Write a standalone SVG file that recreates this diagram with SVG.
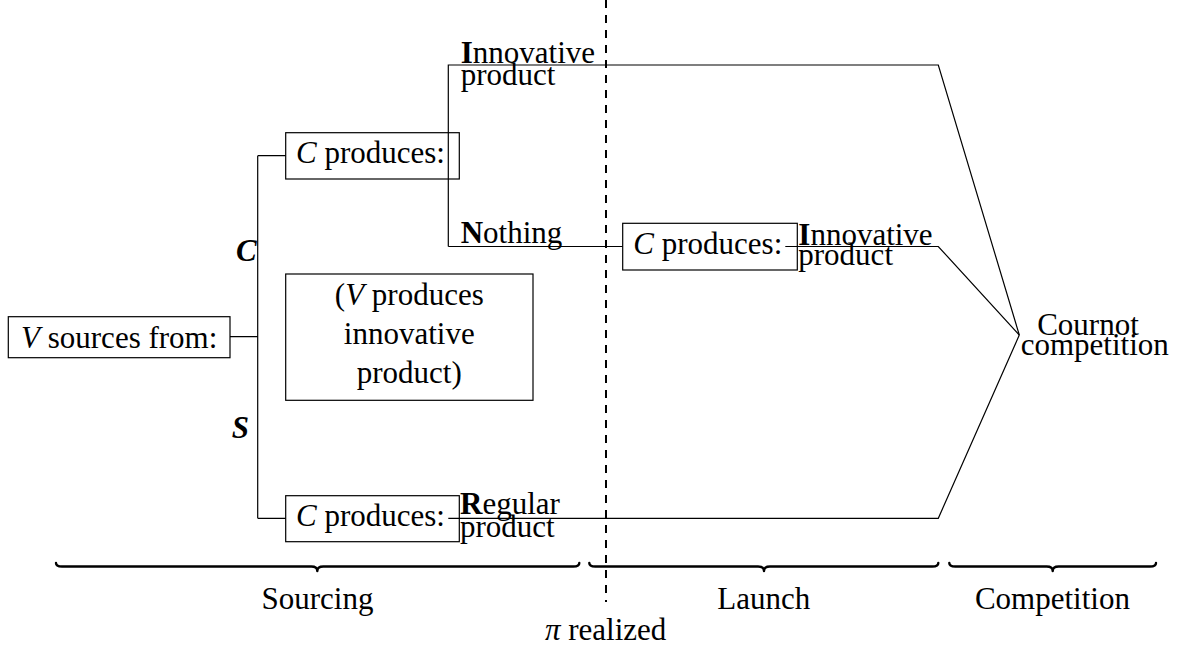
<svg xmlns="http://www.w3.org/2000/svg" width="1183" height="648" viewBox="0 0 1183 648">
<style>
text{font-family:"Liberation Serif","DejaVu Serif",serif;font-size:31px;fill:#000}
.i{font-style:italic}
.b{font-weight:bold}
.bi{font-weight:bold;font-style:italic}
.box{fill:none;stroke:#000;stroke-width:1.2}
.ln{fill:none;stroke:#000;stroke-width:1.2}
.dash{fill:none;stroke:#000;stroke-width:2;stroke-dasharray:8 7}
.brace{fill:none;stroke:#000;stroke-width:2.4;stroke-linecap:round;stroke-linejoin:round}
</style>
<rect width="1183" height="648" fill="#fff"/>
<g id="connectors">
  <path class="ln" d="M230,336.7 H257.7 M257.7,155.7 V518.3 M257.7,155.7 H285.7 M257.7,518.3 H285.7"/>
  <path class="ln" d="M448.3,246.5 V65 H938.3 L1019.3,335"/>
  <path class="ln" d="M448.3,246.5 H622.7"/>
  <path class="ln" d="M785.3,246.5 H938.3 L1019.3,335"/>
  <path class="ln" d="M448.3,518.3 H938.3 L1019.3,335"/>
  <line class="dash" x1="606" y1="0" x2="606" y2="602"/>
</g>
<g id="edge-labels">
  <text class="bi" x="236" y="260.5">C</text>
  <text class="bi" x="231.7" y="438.3">S</text>
  <text x="460.7" y="63"><tspan class="b">I</tspan>nnovative</text>
  <text x="460.7" y="85">product</text>
  <text x="460.7" y="242.7"><tspan class="b">N</tspan>othing</text>
  <text x="798.3" y="245"><tspan class="b">I</tspan>nnovative</text>
  <text x="798.3" y="264.5">product</text>
  <text x="460" y="513.5"><tspan class="b">R</tspan>egular</text>
  <text x="460" y="536.5">product</text>
</g>
<g id="node-v-sources">
  <rect class="box" x="8.3" y="316.7" width="221.7" height="41"/>
  <text x="119.2" y="347.7" text-anchor="middle"><tspan class="i">V</tspan> sources from:</text>
</g>
<g id="node-c-produces-top">
  <rect class="box" x="285.7" y="132.7" width="173.6" height="46.3"/>
  <text x="296" y="163.2"><tspan class="i">C</tspan> produces:</text>
</g>
<g id="node-v-produces">
  <rect class="box" x="285.7" y="274" width="247.3" height="126.3"/>
  <text x="409.3" y="304.8" text-anchor="middle">(<tspan class="i">V</tspan> produces</text>
  <text x="409.3" y="343.8" text-anchor="middle">innovative</text>
  <text x="409.3" y="382.8" text-anchor="middle">product)</text>
</g>
<g id="node-c-produces-bottom">
  <rect class="box" x="285.7" y="495.7" width="173.6" height="46"/>
  <text x="296" y="525.9"><tspan class="i">C</tspan> produces:</text>
</g>
<g id="node-c-produces-mid">
  <rect class="box" x="622.7" y="223.3" width="174.6" height="46.7"/>
  <text x="633.3" y="254.2"><tspan class="i">C</tspan> produces:</text>
</g>
<g id="node-cournot">
  <text x="1088" y="335" text-anchor="middle">Cournot</text>
  <text x="1020.7" y="355">competition</text>
</g>
<g id="braces">
  <path class="brace" d="M56,563 Q56,566.5 62,566.5 H311.3 Q317.3,566.5 317.3,571 Q317.3,566.5 323.3,566.5 H573.3 Q579.3,566.5 579.3,563"/>
  <path class="brace" d="M589.3,563 Q589.3,566.5 595.3,566.5 H758 Q764,566.5 764,571 Q764,566.5 770,566.5 H932.3 Q938.3,566.5 938.3,563"/>
  <path class="brace" d="M949.3,563 Q949.3,566.5 955.3,566.5 H1046.7 Q1052.7,566.5 1052.7,571 Q1052.7,566.5 1058.7,566.5 H1150 Q1156,566.5 1156,563"/>
</g>
<g id="phase-labels">
  <text x="317.5" y="609" text-anchor="middle">Sourcing</text>
  <text x="763.8" y="609" text-anchor="middle">Launch</text>
  <text x="1052.4" y="609" text-anchor="middle">Competition</text>
  <text x="545" y="639.7"><tspan class="i">π</tspan> realized</text>
</g>
</svg>
